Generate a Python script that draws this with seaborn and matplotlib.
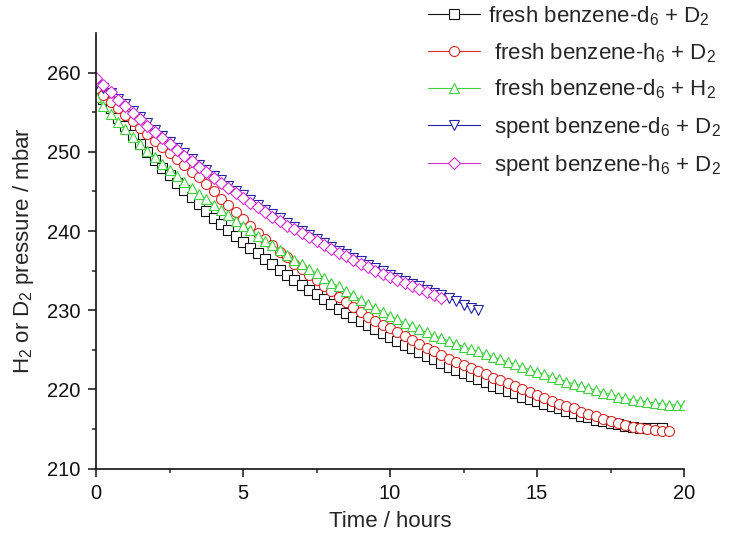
import numpy as np
import pandas as pd
import matplotlib
matplotlib.use("Agg")
import matplotlib.pyplot as plt
import seaborn as sns

sns.set_theme(style="ticks")
plt.rcParams['font.family'] = ['Liberation Sans', 'DejaVu Sans']
plt.rcParams['mathtext.default'] = 'regular'

labels = [
    "fresh benzene-d$_6$ + D$_2$",
    " fresh benzene-h$_6$ + D$_2$",
    " fresh benzene-d$_6$ + H$_2$",
    " spent benzene-d$_6$ + D$_2$",
    " spent benzene-h$_6$ + D$_2$",
]
colors = ["#111111", "#d42a2a", "#3fcf3f", "#2323a8", "#cf2fcf"]
markers = ["s", "o", "^", "v", "D"]
msizes = [7.0, 7.2, 7.6, 7.6, 6.2]

step = 0.25
fresh_d6_D2 = [258.0, 256.7, 255.5, 254.3, 253.2, 252.1, 251.0, 250.0, 249.0, 248.0,
               247.1, 246.1, 245.2, 244.3, 243.4, 242.5, 241.7, 240.9, 240.1, 239.4,
               238.6, 237.9, 237.2, 236.5, 235.8, 235.1, 234.5, 233.8, 233.2, 232.6,
               232.0, 231.4, 230.8, 230.2, 229.7, 229.1, 228.6, 228.1, 227.6, 227.1,
               226.6, 226.1, 225.6, 225.2, 224.7, 224.2, 223.8, 223.3, 222.9, 222.5,
               222.1, 221.7, 221.3, 220.9, 220.5, 220.2, 219.8, 219.5, 219.1, 218.8,
               218.5, 218.2, 217.9, 217.6, 217.3, 217.0, 216.7, 216.5, 216.2, 216.0,
               215.8, 215.6, 215.4, 215.3, 215.2, 215.1, 215.1, 215.1]
fresh_h6_D2 = [258.0, 257.2, 256.3, 255.5, 254.7, 253.9, 253.0, 252.2, 251.4, 250.6,
               249.8, 249.1, 248.3, 247.5, 246.8, 245.9, 245.0, 244.1, 243.3, 242.4,
               241.5, 240.6, 239.8, 239.0, 238.2, 237.4, 236.7, 235.9, 235.2, 234.5,
               233.8, 233.1, 232.4, 231.7, 231.0, 230.4, 229.8, 229.2, 228.7, 228.2,
               227.7, 227.2, 226.7, 226.2, 225.7, 225.2, 224.8, 224.3, 223.9, 223.5,
               223.1, 222.7, 222.3, 221.9, 221.5, 221.2, 220.8, 220.4, 220.0, 219.7,
               219.3, 218.9, 218.6, 218.2, 217.9, 217.6, 217.2, 216.9, 216.6, 216.3,
               216.0, 215.8, 215.5, 215.3, 215.2, 215.0, 214.9, 214.8, 214.7]
fresh_d6_H2 = [256.9, 255.8, 254.8, 253.8, 252.9, 251.9, 251.0, 250.1, 249.3, 248.5,
               247.7, 246.9, 246.2, 245.4, 244.7, 244.0, 243.3, 242.6, 242.0, 241.3,
               240.7, 240.1, 239.4, 238.8, 238.2, 237.6, 237.0, 236.4, 235.8, 235.2,
               234.7, 234.1, 233.5, 233.0, 232.4, 231.9, 231.3, 230.8, 230.3, 229.8,
               229.3, 228.9, 228.4, 228.0, 227.6, 227.2, 226.8, 226.5, 226.1, 225.8,
               225.4, 225.1, 224.8, 224.5, 224.1, 223.8, 223.5, 223.2, 222.8, 222.5,
               222.2, 221.9, 221.6, 221.3, 221.0, 220.7, 220.5, 220.2, 219.9, 219.6,
               219.4, 219.1, 218.9, 218.7, 218.6, 218.4, 218.3, 218.2, 218.1, 218.0,
               218.0]
spent_d6_D2 = [258.6, 258.0, 257.4, 256.7, 256.0, 255.2, 254.4, 253.6, 252.8, 252.0,
               251.3, 250.5, 249.8, 249.1, 248.4, 247.7, 247.0, 246.4, 245.7, 245.1,
               244.5, 243.9, 243.3, 242.7, 242.1, 241.6, 241.0, 240.5, 240.0, 239.5,
               239.0, 238.5, 238.0, 237.5, 237.1, 236.6, 236.2, 235.7, 235.3, 234.9,
               234.5, 234.1, 233.7, 233.3, 233.0, 232.6, 232.2, 231.9, 231.5, 231.2,
               230.7, 230.3, 230.0]
spent_h6_D2 = [259.3, 258.4, 257.5, 256.6, 255.8, 254.9, 254.1, 253.3, 252.5, 251.7,
               251.0, 250.2, 249.5, 248.8, 248.1, 247.4, 246.7, 246.1, 245.4, 244.8,
               244.2, 243.6, 243.0, 242.4, 241.8, 241.3, 240.7, 240.2, 239.7, 239.2,
               238.7, 238.2, 237.7, 237.2, 236.8, 236.3, 235.9, 235.4, 235.0, 234.6,
               234.2, 233.8, 233.4, 233.0, 232.7, 232.3, 231.9, 231.6]

series = [fresh_d6_D2, fresh_h6_D2, fresh_d6_H2, spent_d6_D2, spent_h6_D2]

fig = plt.figure(figsize=(7.30, 5.38), dpi=100)
ax = fig.add_axes([96/730, 1-468.7/538, (684-96)/730, (468.7-33)/538])

for vals, lab, c, m, ms in zip(series, labels, colors, markers, msizes):
    t = np.arange(len(vals)) * step
    df = pd.DataFrame({"t": t, "p": vals})
    sns.lineplot(data=df, x="t", y="p", ax=ax, color=c, lw=0.8, marker=m,
                 markersize=ms, markerfacecolor="white", markeredgecolor=c,
                 markeredgewidth=0.8, label=lab, sort=False, errorbar=None)

ax.set_xlim(0, 20)
ax.set_ylim(210, 265)
ax.set_xticks([0, 5, 10, 15, 20])
ax.set_xticks([2.5, 7.5, 12.5, 17.5], minor=True)
ax.set_yticks([210, 220, 230, 240, 250, 260])
ax.set_yticks([215, 225, 235, 245, 255], minor=True)
ax.tick_params(axis="both", which="major", direction="out", length=6, width=1.1,
               labelsize=14.5, colors="#111111", pad=5)
ax.tick_params(axis="both", which="minor", direction="out", length=3, width=1.1)
for s in ["left", "bottom"]:
    ax.spines[s].set_linewidth(1.2)
    ax.spines[s].set_color("#111111")
for s in ["top", "right"]:
    ax.spines[s].set_visible(False)

ax.set_xlabel("Time / hours", fontsize=16, labelpad=6)
ax.set_ylabel("H$_2$ or D$_2$ pressure / mbar", fontsize=16, labelpad=8)

leg = ax.legend(loc="upper left", bbox_to_anchor=(428/730, 1-4/538),
                bbox_transform=fig.transFigure, frameon=False, fontsize=16,
                handlelength=2.35, handletextpad=0.35, labelspacing=0.6,
                borderpad=0, borderaxespad=0)

fig.savefig("out.png", dpi=100)
